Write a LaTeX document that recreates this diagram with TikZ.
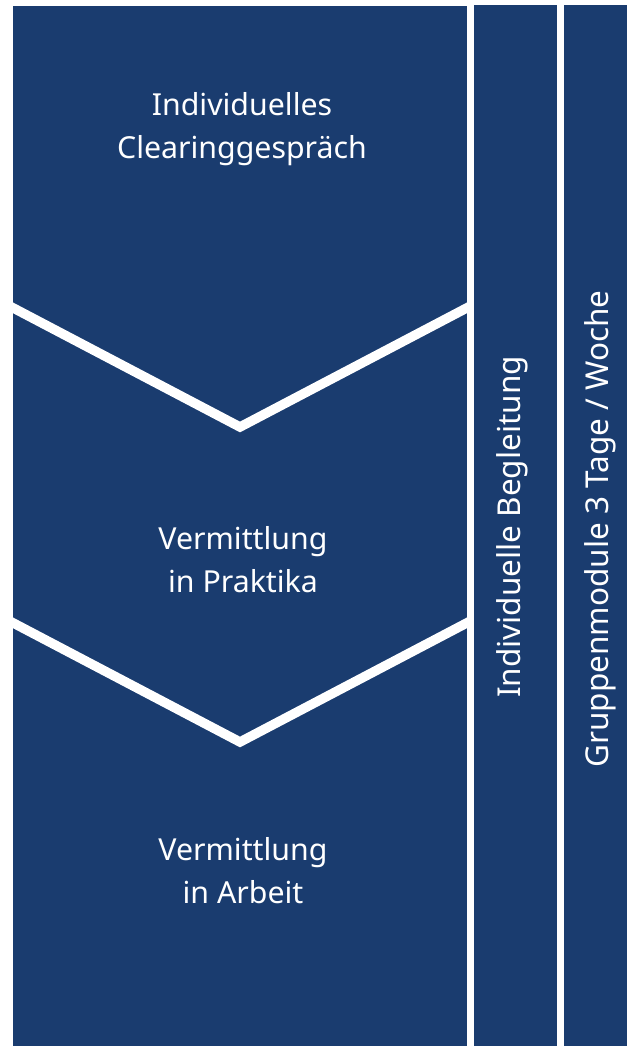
\documentclass[tikz,border=0pt]{standalone}
\usepackage{fontspec}
\setmainfont{Noto Sans}
\usepackage{tikz}
\definecolor{planblue}{RGB}{26,60,111}
\tikzset{
	phasetext/.style={text=white, align=center, font=\fontsize{30.3}{43}\selectfont},
	sidetext/.style={text=white, rotate=90, font=\fontsize{31.5}{36}\selectfont},
	cut/.style={draw=white, line width=9.5pt, miter limit=10}
}

\begin{document}
\begin{tikzpicture}[x=1pt,y=-1pt]
				\useasboundingbox (0,0) rectangle (627,1047);
				
				% main column with the three phases
				\fill[planblue] (13,6) rectangle (467,1046);
				\begin{scope}
					\clip (13,6) rectangle (467,1046);
					\draw[cut] (0,301) -- (240,427) -- (480,301);
					\draw[cut] (0,616) -- (240,742) -- (480,616);
				\end{scope}
				
				% side columns
				\fill[planblue] (474,5) rectangle (557,1046);
				\fill[planblue] (564,5) rectangle (627,1046);
				
				\node[phasetext] (clearing) at (242,129) {Individuelles\\Clearinggespräch};
				\node[phasetext] (praktika) at (243,560) {Vermittlung\\in Praktika};
				\node[phasetext] (arbeit) at (243,871) {Vermittlung\\in Arbeit};
				
				\node[sidetext] (begleitung) at (512,527) {Individuelle Begleitung};
				\node[sidetext] (gruppe) at (600,529) {Gruppenmodule 3 Tage / Woche};
			\end{tikzpicture}
\end{document}
